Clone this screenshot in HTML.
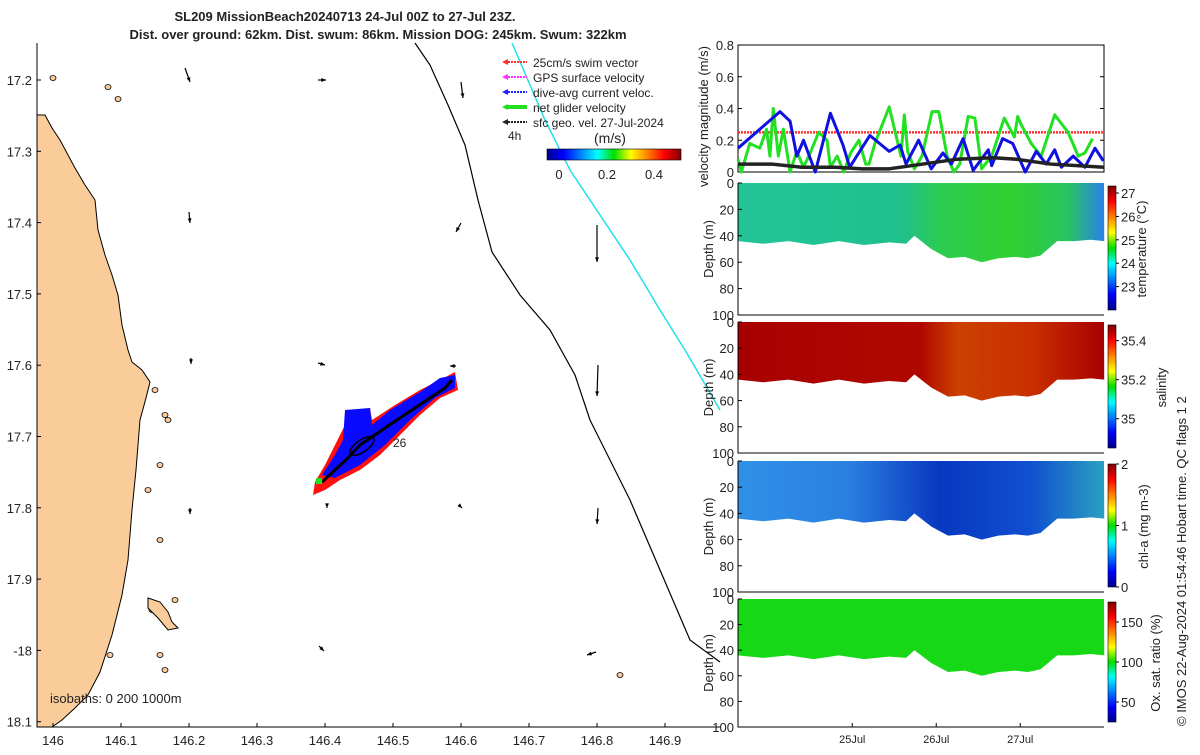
<!DOCTYPE html>
<html><head><meta charset="utf-8"><style>
body{margin:0;background:#fff;width:1200px;height:750px;overflow:hidden;font-family:"Liberation Sans",sans-serif}
svg text{font-family:"Liberation Sans",sans-serif;fill:#222}
</style></head><body>
<svg id="s" width="1200" height="750">
<defs>
<linearGradient id="jet" x1="0" x2="1"><stop offset="0" stop-color="#00008f"/><stop offset="0.125" stop-color="#0000ff"/><stop offset="0.375" stop-color="#00ffff"/><stop offset="0.5" stop-color="#00e000"/><stop offset="0.625" stop-color="#ffff00"/><stop offset="0.875" stop-color="#ff0000"/><stop offset="1" stop-color="#800000"/></linearGradient>
<linearGradient id="jetv" x1="0" x2="0" y1="1" y2="0"><stop offset="0" stop-color="#00008f"/><stop offset="0.125" stop-color="#0000ff"/><stop offset="0.375" stop-color="#00ffff"/><stop offset="0.5" stop-color="#00e000"/><stop offset="0.625" stop-color="#ffff00"/><stop offset="0.875" stop-color="#ff0000"/><stop offset="1" stop-color="#800000"/></linearGradient>
<linearGradient id="gT" x1="0" x2="1"><stop offset="0" stop-color="#22c498"/><stop offset="0.45" stop-color="#20c08c"/><stop offset="0.55" stop-color="#2ccc50"/><stop offset="0.75" stop-color="#30d030"/><stop offset="0.9" stop-color="#28c460"/><stop offset="1" stop-color="#2a80e8"/></linearGradient>
<linearGradient id="gS" x1="0" x2="1"><stop offset="0" stop-color="#a80000"/><stop offset="0.5" stop-color="#b00800"/><stop offset="0.6" stop-color="#cc4000"/><stop offset="0.8" stop-color="#c83000"/><stop offset="1" stop-color="#a80000"/></linearGradient>
<linearGradient id="gC" x1="0" x2="1"><stop offset="0" stop-color="#3090e8"/><stop offset="0.3" stop-color="#2a80e0"/><stop offset="0.55" stop-color="#0838c0"/><stop offset="0.8" stop-color="#1050d0"/><stop offset="1" stop-color="#2aa0c0"/></linearGradient>
</defs>
<g id="map"></g>
<g id="vel"></g>
<g id="sec"></g>
<text x="345" y="21" text-anchor="middle" font-size="13" font-weight="bold">SL209 MissionBeach20240713 24-Jul 00Z to 27-Jul 23Z.</text>
<text x="378" y="39" text-anchor="middle" font-size="13" font-weight="bold">Dist. over ground: 62km. Dist. swum: 86km. Mission DOG: 245km. Swum: 322km</text>
<text transform="translate(1186,726) rotate(-90)" font-size="13">© IMOS 22-Aug-2024 01:54:46 Hobart time. QC flags 1  2</text>
</svg>
<script>
const NS='http://www.w3.org/2000/svg';
function el(p,t,a,txt){const e=document.createElementNS(NS,t);for(const k in a)e.setAttribute(k,a[k]);if(txt!==undefined)e.textContent=txt;p.appendChild(e);return e;}
// ---------- velocity data ----------
const blueT=[0,0.5,0.62,0.7,0.78,0.92,1.1,1.25,1.33,1.57,1.8,1.93,2.0,2.15,2.3,2.44,2.54,2.68,2.8,2.98,3.02,3.15,3.27,3.42,3.55,3.67,3.77,3.85,3.99,4.13,4.25,4.35];
const blueV=[0.15,0.38,0.32,0.1,0.2,0.0,0.37,0.17,0.03,0.23,0.13,0.17,0.05,0.2,0.02,0.12,0.05,0.21,0.01,0.14,0.04,0.21,0.18,0.0,0.13,0.05,0.14,0.03,0.1,0.03,0.15,0.07];
const greenT=[0,0.04,0.14,0.26,0.34,0.38,0.42,0.48,0.54,0.62,0.7,0.78,0.86,0.96,1.06,1.1,1.18,1.26,1.34,1.44,1.52,1.56,1.63,1.8,1.94,1.98,2.02,2.1,2.19,2.31,2.39,2.49,2.57,2.64,2.74,2.82,2.9,2.96,3.02,3.17,3.29,3.33,3.37,3.49,3.61,3.77,3.93,4.05,4.13,4.22];
const greenV=[0.08,0.0,0.18,0.15,0.27,0.1,0.4,0.1,0.27,0.0,0.13,0.03,0.12,0.25,0.2,0.03,0.1,0.0,0.12,0.2,0.05,0.05,0.18,0.41,0.1,0.36,0.13,0.02,0.1,0.38,0.38,0.1,0.0,0.05,0.35,0.34,0.02,0.06,0.1,0.34,0.22,0.35,0.3,0.18,0.1,0.36,0.25,0.1,0.12,0.21];
const blackT=[0,0.4,0.76,1.16,1.48,1.8,2.2,2.6,3.04,3.32,3.72,4.36];
const blackV=[0.05,0.05,0.03,0.03,0.02,0.02,0.05,0.08,0.09,0.08,0.05,0.03];
const swimRef=[0.25];
const velTicks=[0,0.2,0.4,0.6,0.8];
const dayTicks=[1.36,2.36,3.36], dayLabels=['25Jul','26Jul','27Jul'];
const VX0=738,VX1=1104,VY0=172,VY1=45;
const tx=t=>VX0+t*84;
const vy=v=>VY0-(v/0.8)*(VY0-VY1);
const vel=document.getElementById('vel');
let r=el(vel,'rect',{x:VX0,y:VY1,width:VX1-VX0,height:VY0-VY1,fill:'#fff',stroke:'#000','stroke-width':1});

velTicks.forEach(v=>{el(vel,'line',{x1:VX0,x2:VX0+4,y1:vy(v),y2:vy(v),stroke:'#000'});el(vel,'line',{x1:VX1-4,x2:VX1,y1:vy(v),y2:vy(v),stroke:'#000'});
 const t=el(vel,'text',{x:VX0-4,y:vy(v)+5,'text-anchor':'end','font-size':13},String(v));});
let yl=el(vel,'text',{transform:`translate(${VX0-30},${(VY0+VY1)/2+8}) rotate(-90)`,'text-anchor':'middle','font-size':13},'velocity magnitude (m/s)');

let sw=el(vel,'line',{x1:VX0,x2:VX1,y1:vy(swimRef[0]),y2:vy(swimRef[0]),stroke:'#ff3030','stroke-width':2.5,'stroke-dasharray':'2 1'});

function series(T,V,col,w,name){const p=el(vel,'polyline',{points:T.map((t,i)=>tx(t)+','+vy(V[i])).join(' '),fill:'none',stroke:col,'stroke-width':w,'stroke-linejoin':'round'});}
series(greenT,greenV,'#22e022',3,'net-glider-velocity-line');
series(blueT,blueV,'#1010e0',3,'dive-avg-current-line');
series(blackT,blackV,'#222',3.5,'sfc-geo-velocity-line');
// ---------- sections ----------
const panelTops=[183,322,461,599], panelBots=[315,453,592,727];
const depthTicks=[0,20,40,60,80,100];
const bottomT=[0,0.3,0.6,0.9,1.2,1.5,1.8,2.0,2.1,2.3,2.5,2.7,2.9,3.1,3.3,3.45,3.6,3.8,4.0,4.2,4.36];
const bottomD=[44,46,44,47,44,47,45,46,40,50,57,56,60,57,56,57,55,44,44,43,44];
const fills=['url(#gT)','url(#gS)','url(#gC)','#16d816'];
const cbTicks=[[27,26,25,24,23],[35.4,35.2,35],[2,1,0],[150,100,50]];
const cbRange=[[22,27.3],[34.85,35.48],[0,2],[25,175]];
const cbLabels=['temperature (°C)','salinity','chl-a (mg m-3)','Ox. sat. ratio (%)'];
const cbNames=['temperature','salinity','chlorophyll','oxygen'];
const cbLabelX=[1146,1166,1148,1160];
const sec=document.getElementById('sec');
panelTops.forEach((top,k)=>{
 const bot=panelBots[k];const dy=d=>top+d/100*(bot-top);
 const g=el(sec,'g',{});
 el(g,'rect',{x:VX0,y:top,width:VX1-VX0,height:bot-top,fill:'#fff'});
 const pts=[VX0+','+top,VX1+','+top].concat(bottomT.slice().reverse().map((t,i)=>tx(t)+','+dy(bottomD[bottomT.length-1-i])));
 el(g,'polygon',{points:pts.join(' '),fill:fills[k]});
 el(g,'polyline',{points:[VX0+','+top,VX0+','+bot,VX1+','+bot].join(' '),fill:'none',stroke:'#000'});
 depthTicks.forEach(d=>{el(g,'line',{x1:VX0,x2:VX0+4,y1:dy(d),y2:dy(d),stroke:'#000'});
  const t=el(g,'text',{x:VX0-4,y:dy(d)+5,'text-anchor':'end','font-size':13},String(d));});
 const yt=el(g,'text',{transform:`translate(${VX0-25},${(top+bot)/2}) rotate(-90)`,'text-anchor':'middle','font-size':13},'Depth (m)');
 
 const cy0=top+3,cy1=bot-5;
 const cb=el(g,'rect',{x:1108,y:cy0,width:8,height:cy1-cy0,fill:'url(#jetv)',stroke:'#000','stroke-width':0.6});
 
 const [lo,hi]=cbRange[k];
 cbTicks[k].forEach(v=>{const y=cy1-(v-lo)/(hi-lo)*(cy1-cy0);el(g,'line',{x1:1116,x2:1119,y1:y,y2:y,stroke:'#000'});
  const t=el(g,'text',{x:1121,y:y+5,'font-size':13},String(v));});
 const cl=el(g,'text',{transform:`translate(${cbLabelX[k]},${(top+bot)/2}) rotate(-90)`,'text-anchor':'middle','font-size':13},cbLabels[k]);
 
});
dayTicks.forEach((t,i)=>{const x=tx(t);el(sec,'line',{x1:x,x2:x,y1:727,y2:723,stroke:'#000'});
 const l=el(sec,'text',{x:x,y:743,'text-anchor':'middle','font-size':11},dayLabels[i]);});
// ---------- map ----------
const map=document.getElementById('map');
const MX0=37,MX1=720,MY0=43,MY1=727;
const lonTicks=[146,146.1,146.2,146.3,146.4,146.5,146.6,146.7,146.8,146.9];
const latTicks=[17.2,17.3,17.4,17.5,17.6,17.7,17.8,17.9,18,18.1];
const lx=l=>53+(l-146)*680;
const ly=l=>80+(l-17.2)*713;
el(map,'rect',{x:MX0,y:MY0,width:MX1-MX0,height:MY1-MY0,fill:'#fff'});
const land=el(map,'polygon',{points:'37,115 45,115 52,128 60,140 68,155 75,168 85,185 95,200 98,230 105,255 112,275 118,295 122,325 128,350 132,362 142,370 150,382 146,398 140,420 136,470 132,510 128,560 122,595 112,635 100,672 88,695 75,708 62,720 52,727 37,727',fill:'#f9cc99',stroke:'#000','stroke-width':1});

[[118,99],[108,87],[53,78],[165,415],[168,420],[175,600],[152,610],[160,655],[165,670],[620,675],[160,465],[160,540],[148,490],[155,390],[110,655]].forEach(p=>{el(map,'ellipse',{cx:p[0],cy:p[1],rx:3,ry:2.5,fill:'#f9cc99',stroke:'#000','stroke-width':0.8});});
el(map,'path',{d:'M148,598 L160,602 L168,612 L172,622 L178,628 L168,630 L158,618 L148,608 Z',fill:'#f9cc99',stroke:'#000'});
const iso=el(map,'polyline',{points:'415,43 430,65 448,105 465,145 478,200 492,252 520,295 550,330 575,375 590,420 596,432 630,500 660,570 690,640 720,662',fill:'none',stroke:'#000','stroke-width':1.2});

const cyan=el(map,'polyline',{points:'512,43 545,120 570,170 600,215 630,260 660,310 685,350 720,410',fill:'none',stroke:'#22e0e8','stroke-width':1.5});

el(map,'polygon',{points:'315,482 325,465 335,445 345,425 358,410 370,408 372,420 395,405 420,390 440,380 455,372 458,390 440,398 420,415 400,435 380,455 360,470 340,480 325,490 313,495',fill:'#ff1010'});
el(map,'polygon',{points:'322,475 335,455 343,440 345,410 370,408 372,425 390,410 420,392 440,378 455,375 455,388 435,398 410,420 385,445 360,465 335,478',fill:'#0a0aff'});
const trk=el(map,'polyline',{points:'322,482 335,470 348,458 360,445 372,437 385,428 400,418 415,408 430,398 445,388 452,380',fill:'none',stroke:'#000','stroke-width':3});

el(map,'ellipse',{cx:362,cy:446,rx:14,ry:6,fill:'none',stroke:'#000','stroke-width':1.5,transform:'rotate(-35 362 446)'});
el(map,'rect',{x:316,y:478,width:6,height:6,fill:'#22e022'});
el(map,'text',{x:393,y:447,'font-size':12},'26');
[[185,68,190,82],[318,80,326,80],[461,82,463,98],[189,212,190,223],[461,223,456,232],[597,225,597,262],[191,358,191,364],[318,363,325,365],[456,366,450,366],[598,365,597,396],[190,508,190,514],[598,508,597,524],[319,646,324,651],[596,652,587,655],[461,507,462,508],[327,507,327,508]].forEach(a=>{
 const g=el(map,'g',{});
 el(g,'line',{x1:a[0],y1:a[1],x2:a[2],y2:a[3],stroke:'#000','stroke-width':1.2});
 const ang=Math.atan2(a[3]-a[1],a[2]-a[0]);const s=5;
 el(g,'polygon',{points:`${a[2]},${a[3]} ${a[2]-s*Math.cos(ang-0.4)},${a[3]-s*Math.sin(ang-0.4)} ${a[2]-s*Math.cos(ang+0.4)},${a[3]-s*Math.sin(ang+0.4)}`,fill:'#000'});
});
el(map,'polyline',{points:`${MX0},${MY0} ${MX0},${MY1} ${MX1},${MY1}`,fill:'none',stroke:'#000'});
lonTicks.forEach(l=>{const x=lx(l);el(map,'line',{x1:x,x2:x,y1:MY1,y2:MY1-4,stroke:'#000'});
 const t=el(map,'text',{x:x,y:745,'text-anchor':'middle','font-size':13},String(l));});
latTicks.forEach(l=>{const y=ly(l);el(map,'line',{x1:MX0,x2:MX0+4,y1:y,y2:y,stroke:'#000'});
 const t=el(map,'text',{x:MX0-5,y:y+5,'text-anchor':'end','font-size':13},l===18?'-18':String(l));});
const isoL=el(map,'text',{x:50,y:703,'font-size':13},'isobaths: 0   200  1000m');
const leg=[['25cm/s swim vector','#ff3030'],['GPS surface velocity','#ff30ff'],['dive-avg current veloc.','#2020ff'],['net glider velocity','#22e022'],['sfc geo. vel. 27-Jul-2024','#222']];
leg.forEach((d,i)=>{const y=62+i*15;const g=el(map,'g',{});
 el(g,'line',{x1:505,x2:527,y1:y,y2:y,stroke:d[1],'stroke-width':i==3?4:2,'stroke-dasharray':i==3?'':'2 1'});
 el(g,'polygon',{points:`502,${y} 508,${y-3} 508,${y+3}`,fill:d[1]});
 el(g,'text',{x:533,y:y+5,'font-size':12},d[0]);});
el(map,'text',{x:508,y:140,'font-size':12},'4h');
el(map,'text',{x:594,y:143,'font-size':14},'(m/s)');
const lcb=el(map,'rect',{x:547,y:149,width:134,height:11,fill:'url(#jet)',stroke:'#000','stroke-width':0.6});

[[0,559],[0.2,607],[0.4,654]].forEach(t=>{const e=el(map,'text',{x:t[1],y:179,'text-anchor':'middle','font-size':13},String(t[0]));});
</script>
</body></html>
